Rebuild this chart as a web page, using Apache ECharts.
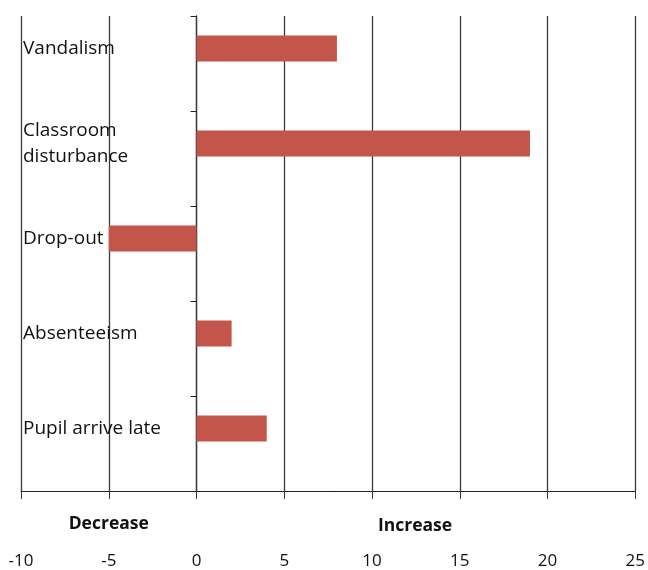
<!DOCTYPE html>
<html>
<head>
<meta charset="utf-8">
<script src="https://cdn.jsdelivr.net/npm/echarts@6/dist/echarts.min.js"></script>
<style>html,body{margin:0;padding:0;background:#fff}#c{width:648px;height:570px}</style>
</head>
<body>
<div id="c"></div>
<script>
var categories = ['Vandalism', 'Classroom\ndisturbance', 'Drop-out', 'Absenteeism', 'Pupil arrive late'];
var values = [8, 19, -5, 2, 4];
var emptyValues = ['-', '-', '-', '-', '-'];
var xTicks = { min: -10, max: 25, interval: 5 };
var directionLabels = ['Decrease', 'Increase'];

var chart = echarts.init(document.getElementById('c'));
var font = '"Open Sans", sans-serif';
chart.setOption({
  animation: false,
  backgroundColor: '#fff',
  grid: { left: 21, right: 12, top: 16, bottom: 74, containLabel: false },
  xAxis: {
    type: 'value', min: xTicks.min, max: xTicks.max, interval: xTicks.interval,
    axisLine: { show: true, onZero: false, lineStyle: { color: '#222', width: 1 } },
    axisTick: { show: true, length: 8, lineStyle: { color: '#333' } },
    splitLine: { show: true, lineStyle: { color: '#3a3a3a', width: 1.3 } },
    axisLabel: { margin: 62, fontSize: 17, color: '#111', fontFamily: font }
  },
  yAxis: {
    type: 'category', data: categories, inverse: true,
    axisLine: { show: true, onZero: true, lineStyle: { color: '#3a3a3a', width: 1.3 } },
    axisTick: { show: true, length: 6, lineStyle: { color: '#222' } },
    axisLabel: { show: false },
    splitLine: { show: false }
  },
  series: [{
    type: 'bar', data: values, barWidth: 26, barGap: '15%',
    itemStyle: { color: '#C4554B' }
  }, {
    type: 'bar', data: emptyValues, barWidth: 26,
    itemStyle: { color: '#4F81BD' }
  }]
});

// category labels placed beside their bars (bar centre = category centre - half of (bar + gap))
var gridLeft = chart.convertToPixel({ xAxisIndex: 0 }, xTicks.min);
var barShift = (26 + 26 * 0.15) / 2;
var graphics = categories.map(function (c, i) {
  var y = chart.convertToPixel({ yAxisIndex: 0 }, i) - barShift;
  return { type: 'text', x: gridLeft + 2, y: y,
    style: { text: c, font: '19px ' + font, fill: '#111', textVerticalAlign: 'middle', verticalAlign: 'middle', lineHeight: 26 } };
});
graphics.push({ type: 'text', x: chart.convertToPixel({ xAxisIndex: 0 }, -5), y: 524,
  style: { text: directionLabels[0], font: 'bold 17.5px ' + font, fill: '#111', align: 'center', verticalAlign: 'middle', textAlign: 'center', textVerticalAlign: 'middle' } });
graphics.push({ type: 'text', x: 415, y: 526,
  style: { text: directionLabels[1], font: 'bold 17.5px ' + font, fill: '#111', align: 'center', verticalAlign: 'middle', textAlign: 'center', textVerticalAlign: 'middle' } });
chart.setOption({ graphic: graphics });
</script>
</body>
</html>
